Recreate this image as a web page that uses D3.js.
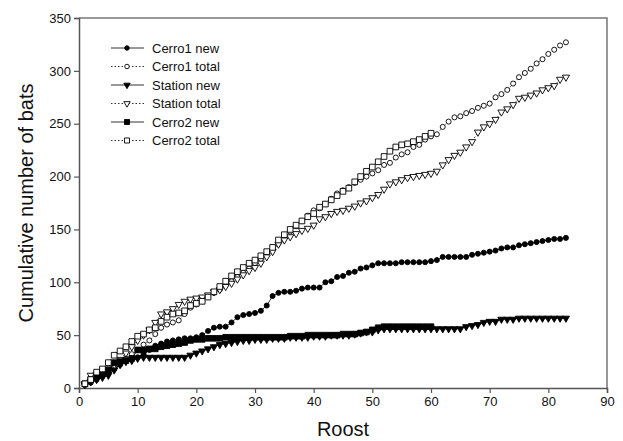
<!DOCTYPE html>
<html>
<head>
<meta charset="utf-8">
<script src="https://cdn.jsdelivr.net/npm/d3@7"></script>
<style>
  body { margin: 0; background: #fff; }
  text { font-family: "Liberation Sans", Arial, sans-serif; fill: #111; }
</style>
</head>
<body>
<div id="chart"></div>
<script>
// roost number 1..83 (Cerro2 stops at 60)
const roosts = d3.range(1, 84);

const cerro1New = [3, 5, 8, 11, 14, 18, 22, 25, 27, 29, 32, 36, 40, 42, 44, 45, 46, 47, 47, 48,
  50, 54, 57, 58, 58, 62, 67, 69, 70, 71, 73, 78, 87, 90, 91, 91, 92, 94, 95, 95,
  95, 100, 101, 105, 106, 109, 110, 113, 114, 116, 118, 118, 118, 118, 119, 119, 119, 119, 119, 120,
  121, 124, 124, 124, 124, 124, 126, 127, 128, 129, 130, 132, 133, 133, 135, 136, 137, 138, 139, 140,
  141, 141, 142];
const cerro1Total = [3, 6, 9, 13, 17, 20, 24, 28, 32, 36, 41, 45, 51, 57, 60, 62, 64, 70, 76, 79,
  82, 86, 90, 93, 97, 101, 105, 109, 113, 118, 122, 126, 131, 137, 143, 148, 153, 158, 163, 168,
  170, 174, 179, 184, 187, 190, 194, 197, 200, 203, 206, 211, 213, 218, 221, 223, 228, 230, 235, 238,
  240, 247, 252, 256, 257, 260, 262, 265, 267, 269, 275, 278, 282, 288, 294, 298, 302, 307, 311, 316,
  320, 324, 327];
const stationNew = [3, 6, 8, 10, 12, 17, 22, 25, 26, 28, 29, 29, 29, 29, 29, 29, 29, 29, 31, 33,
  35, 37, 39, 41, 42, 43, 44, 45, 45, 46, 46, 46, 47, 47, 47, 48, 48, 48, 48, 49,
  49, 49, 50, 50, 50, 50, 51, 52, 53, 53, 55, 56, 56, 56, 56, 56, 56, 56, 56, 56,
  56, 56, 56, 56, 56, 58, 59, 60, 62, 63, 63, 65, 65, 65, 66, 66, 66, 66, 66, 66,
  66, 66, 66];
const stationTotal = [4, 12, 13, 15, 18, 22, 27, 33, 39, 45, 50, 55, 62, 70, 72, 75, 79, 82, 84, 85,
  86, 88, 91, 93, 96, 99, 103, 107, 111, 114, 118, 124, 129, 136, 140, 143, 146, 149, 151, 154,
  160, 162, 165, 167, 168, 170, 172, 175, 177, 180, 183, 188, 193, 195, 197, 199, 200, 201, 202, 203,
  205, 211, 216, 220, 223, 228, 233, 242, 247, 250, 254, 261, 264, 268, 274, 275, 277, 279, 282, 284,
  286, 292, 294];
const cerro2New = [4, 8, 11, 14, 17, 24, 25, 26, 28, 36, 36, 37, 37, 39, 40, 41, 42, 43, 45, 46,
  46, 47, 47, 47, 48, 48, 48, 48, 48, 48, 48, 48, 48, 48, 48, 49, 49, 49, 50, 50,
  50, 50, 50, 50, 51, 51, 51, 52, 53, 55, 57, 58, 58, 58, 58, 58, 58, 58, 58, 58];
const cerro2Total = [4, 8, 15, 18, 24, 31, 35, 39, 44, 49, 51, 55, 57, 63, 67, 70, 71, 73, 78, 80,
  82, 86, 91, 96, 101, 106, 110, 114, 118, 121, 125, 129, 133, 140, 145, 150, 154, 158, 162, 165,
  171, 174, 178, 182, 186, 189, 195, 200, 205, 209, 214, 219, 224, 228, 230, 231, 233, 235, 238, 241];

const xTicks = d3.range(0, 91, 10);
const yTicks = d3.range(0, 351, 50);

const series = [
  { name: "Cerro1 new", values: cerro1New, shape: "circle", fill: "#000", dash: null },
  { name: "Cerro1 total", values: cerro1Total, shape: "circle", fill: "#fff", dash: "1.5,2" },
  { name: "Station new", values: stationNew, shape: "triangle", fill: "#000", dash: null },
  { name: "Station total", values: stationTotal, shape: "triangle", fill: "#fff", dash: "1.5,2" },
  { name: "Cerro2 new", values: cerro2New, shape: "square", fill: "#000", dash: null },
  { name: "Cerro2 total", values: cerro2Total, shape: "square", fill: "#fff", dash: "1.5,2" }
];

const width = 623, height = 441;
const margin = { top: 18, right: 16, bottom: 53, left: 79 };
const innerW = width - margin.left - margin.right;
const innerH = height - margin.top - margin.bottom;

const x = d3.scaleLinear().domain([0, 90]).range([0, innerW]);
const y = d3.scaleLinear().domain([0, 350]).range([innerH, 0]);

const svg = d3.select("#chart").append("svg")
  .attr("width", width)
  .attr("height", height);

const g = svg.append("g")
  .attr("transform", `translate(${margin.left},${margin.top})`);

// frame (top and right)
g.append("path")
  .attr("d", `M0,0H${innerW}V${innerH}`)
  .attr("fill", "none")
  .attr("stroke", "#777")
  .attr("stroke-width", 1.5);

const xAxis = g.append("g")
  .attr("transform", `translate(0,${innerH})`)
  .call(d3.axisBottom(x).tickValues(xTicks).tickSize(5).tickPadding(4));
const yAxis = g.append("g")
  .call(d3.axisLeft(y).tickValues(yTicks).tickSize(5).tickPadding(3));

[xAxis, yAxis].forEach(a => {
  a.select(".domain").attr("stroke", "#555").attr("stroke-width", 1.5);
  a.selectAll(".tick line").attr("stroke", "#555").attr("stroke-width", 1.2);
  a.selectAll(".tick text").style("font-size", "13px").attr("fill", "#111");
});

const symbolType = {
  circle: d3.symbolCircle,
  square: d3.symbolSquare,
  triangle: d3.symbolTriangle
};
const symbolSize = { circle: 20, square: 32, triangle: 22 };

function marker(sel, s, k = 1) {
  sel.attr("d", d3.symbol().type(symbolType[s.shape]).size(symbolSize[s.shape] * k)())
    .attr("fill", s.fill)
    .attr("stroke", "#000")
    .attr("stroke-width", 0.9);
}

const line = d3.line()
  .x((d, i) => x(roosts[i]))
  .y(d => y(d));

series.forEach(s => {
  const sg = g.append("g");
  sg.append("path")
    .datum(s.values)
    .attr("d", line)
    .attr("fill", "none")
    .attr("stroke", "#000")
    .attr("stroke-width", 0.8)
    .attr("stroke-dasharray", s.dash);
  sg.selectAll("path.pt")
    .data(s.values)
    .join("path")
    .attr("class", "pt")
    .attr("transform", (d, i) =>
      `translate(${x(roosts[i])},${y(d)})` + (s.shape === "triangle" ? " rotate(180)" : ""))
    .call(marker, s);
});

// legend
const legend = g.append("g").attr("transform", "translate(32,30)");
series.forEach((s, i) => {
  const row = legend.append("g").attr("transform", `translate(0,${i * 18.5})`);
  row.append("line")
    .attr("x1", 0).attr("x2", 33)
    .attr("stroke", "#333")
    .attr("stroke-width", 1)
    .attr("stroke-dasharray", s.dash);
  row.append("path")
    .attr("transform", `translate(16,0)` + (s.shape === "triangle" ? " rotate(180)" : ""))
    .call(marker, s, 0.8);
  row.append("text")
    .attr("x", 41)
    .attr("y", 0)
    .attr("dy", "0.35em")
    .style("font-size", "13px")
    .text(s.name);
});

// axis titles
svg.append("text")
  .attr("x", margin.left + innerW / 2)
  .attr("y", 436)
  .attr("text-anchor", "middle")
  .style("font-size", "20px")
  .text("Roost");

svg.append("text")
  .attr("transform", `translate(33,${margin.top + innerH / 2}) rotate(-90)`)
  .attr("text-anchor", "middle")
  .style("font-size", "20px")
  .text("Cumulative number of bats");
</script>
</body>
</html>
